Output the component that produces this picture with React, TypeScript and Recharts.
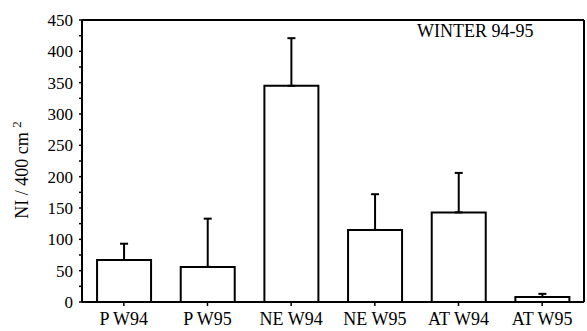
import { BarChart, Bar, XAxis, YAxis, ErrorBar } from 'recharts';

const categories = ['P W94', 'P W95', 'NE W94', 'NE W95', 'AT W94', 'AT W95'];
const means = [67, 56, 345, 115, 143, 8];
const errUp = [26, 77, 76, 57, 63, 5];
const yTicks = [0, 25, 50, 75, 100, 125, 150, 175, 200, 225, 250, 275, 300, 325, 350, 375, 400, 425, 450];

const data = categories.map((name, i) => ({ name, ni: means[i], err: [0, errUp[i]] }));

const serif = '"Liberation Serif", "DejaVu Serif", serif';

// rotated y label with the superscript 2
const YLabel = (props: any) => {
  const { viewBox } = props;
  const x = viewBox.x + 28;
  const y = viewBox.y + 150;
  return (
    <text x={x} y={y} transform={`rotate(-90, ${x}, ${y})`} textAnchor="middle" fontFamily={serif} fontSize={18} fill="#000">
      <tspan>NI / 400 cm </tspan>
      <tspan dy={-7} fontSize={13}>2</tspan>
    </text>
  );
};

export default function App() {
  return (
    <div style={{ position: 'absolute', left: 0, top: 0, width: 587, height: 331, background: '#fff' }}>
      <BarChart
        width={587}
        height={331}
        data={data}
        margin={{ top: 0, right: 3, bottom: 0, left: 0 }}
        barCategoryGap="18%"
      >
        <XAxis
          dataKey="name"
          height={29}
          tickSize={4}
          tickMargin={6}
          axisLine={{ stroke: '#000', strokeWidth: 2 }}
          tickLine={{ stroke: '#000', strokeWidth: 1.5 }}
          tick={{ fill: '#000', fontSize: 18, fontFamily: serif }}
          interval={0}
        />
        <XAxis
          xAxisId="top"
          dataKey="name"
          orientation="top"
          height={20}
          tickSize={4}
          tick={false}
          axisLine={{ stroke: '#000', strokeWidth: 2 }}
          tickLine={{ stroke: '#000', strokeWidth: 1.5 }}
        />
        <YAxis
          domain={[0, 450]}
          ticks={yTicks}
          width={82}
          tickSize={3}
          tickMargin={6}
          interval={0}
          tickFormatter={(v: number) => (v % 50 === 0 ? String(v) : '')}
          axisLine={{ stroke: '#000', strokeWidth: 2 }}
          tickLine={{ stroke: '#000', strokeWidth: 1.5 }}
          tick={{ fill: '#000', fontSize: 17, fontFamily: serif }}
          label={<YLabel />}
        />
        <YAxis
          yAxisId="right"
          orientation="right"
          mirror
          domain={[0, 450]}
          ticks={yTicks}
          interval={0}
          tickSize={3}
          tick={false}
          axisLine={{ stroke: '#000', strokeWidth: 2 }}
          tickLine={{ stroke: '#000', strokeWidth: 1.5 }}
        />
        <Bar dataKey="ni" fill="#fff" stroke="#000" strokeWidth={2} isAnimationActive={false}>
          <ErrorBar dataKey="err" direction="y" width={4} stroke="#000" strokeWidth={2} isAnimationActive={false} />
        </Bar>
      </BarChart>
      <div
        style={{
          position: 'absolute',
          left: 417,
          top: 22,
          fontFamily: serif,
          fontSize: 18,
          lineHeight: '18px',
          color: '#000',
          whiteSpace: 'nowrap',
        }}
      >
        WINTER 94-95
      </div>
    </div>
  );
}
